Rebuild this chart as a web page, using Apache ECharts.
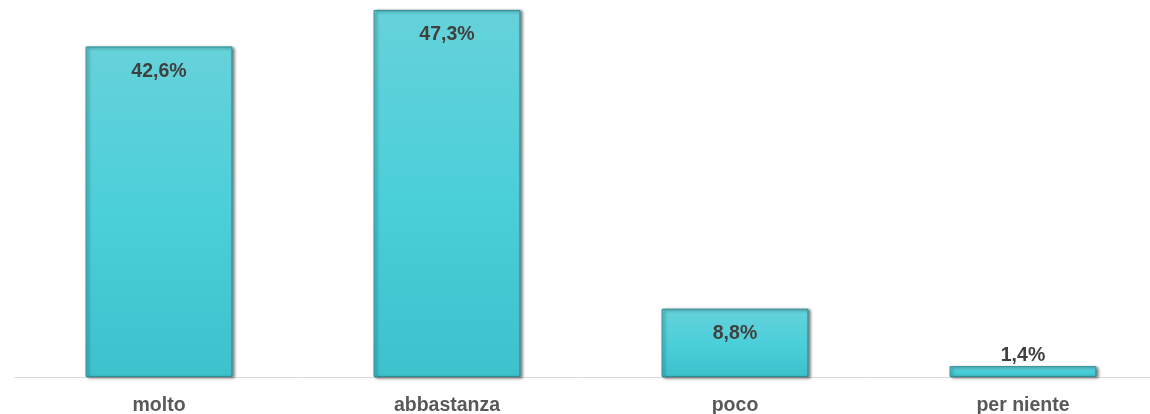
<!DOCTYPE html>
<html>
<head>
<meta charset="utf-8">
<script src="https://cdn.jsdelivr.net/npm/echarts@6/dist/echarts.min.js"></script>
<style>
  html, body { margin: 0; padding: 0; background: #fff; }
  #chart { width: 1150px; height: 414px; }
</style>
</head>
<body>
<div id="chart"></div>
<script>
const categories = ['molto', 'abbastanza', 'poco', 'per niente'];
const values = [42.6, 47.3, 8.8, 1.4];

const chart = echarts.init(document.getElementById('chart'));

// bevelled teal bars, like the spreadsheet original
const barFill = new echarts.graphic.LinearGradient(0, 0, 0, 1, [
  { offset: 0, color: '#66d2da' },
  { offset: 0.5, color: '#4bcfd9' },
  { offset: 1, color: '#3cc2cd' }
]);

// tiny bars get their label above the bar instead of inside
const barData = values.map((v) =>
  v < 3 ? { value: v, label: { position: 'top', distance: 1 } } : v
);

chart.setOption({
  animation: false,
  grid: { left: 15, width: 1152, top: -11, bottom: 37, outerBoundsMode: 'none' },
  xAxis: {
    type: 'category',
    data: categories,
    axisTick: { show: false },
    axisLine: { lineStyle: { color: '#d9d9d9', width: 1 } },
    axisLabel: {
      margin: 19,
      color: '#595959',
      fontSize: 19.5,
      fontWeight: 'bold',
      fontFamily: 'Liberation Sans, Arial, sans-serif'
    }
  },
  yAxis: {
    type: 'value',
    min: 0,
    max: 50,
    show: false,
    splitLine: { show: false }
  },
  series: [{
    type: 'bar',
    data: barData,
    barWidth: '51%',
    itemStyle: {
      color: barFill,
      borderColor: '#2b8f98',
      borderWidth: 1,
      shadowColor: 'rgba(0,0,0,0.5)',
      shadowBlur: 3,
      shadowOffsetX: 2,
      shadowOffsetY: 1
    },
    label: {
      show: true,
      position: 'insideTop',
      distance: 15,
      color: '#404040',
      fontSize: 19.5,
      fontWeight: 'bold',
      fontFamily: 'Liberation Sans, Arial, sans-serif',
      formatter: (p) => p.value.toFixed(1).replace('.', ',') + '%'
    }
  }]
});
</script>
</body>
</html>
